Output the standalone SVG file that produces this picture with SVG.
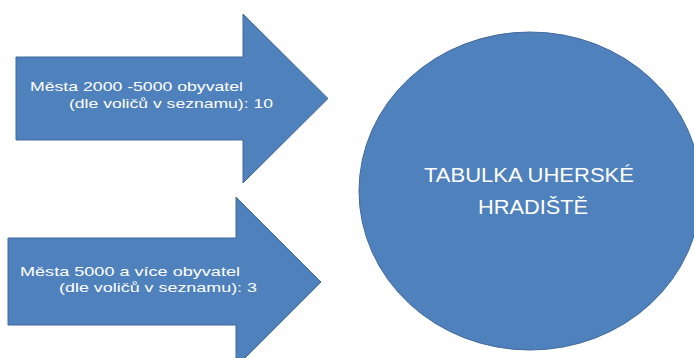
<svg xmlns="http://www.w3.org/2000/svg" width="694" height="358" viewBox="0 0 694 358">
<style>
.shape{fill:#4F81BD;stroke:#41699C;stroke-width:1}
.t{font-family:"Liberation Sans","Open Sans",sans-serif;fill:#FFFFFF}
.s{font-size:13.5px}
.c{font-size:20px;text-anchor:middle}
</style>
<rect width="694" height="358" fill="#FFFFFF"/>
<g id="arrow1">
<polygon class="shape" points="16,57 243,57 243,14 328,98.5 243,183 243,140 16,140"/>
<text class="t s" x="30" y="91" textLength="213" lengthAdjust="spacingAndGlyphs">Města 2000 -5000 obyvatel</text>
<text class="t s" x="69" y="108" textLength="204" lengthAdjust="spacingAndGlyphs">(dle voličů v seznamu): 10</text>
</g>
<g id="arrow2">
<polygon class="shape" points="8,238 236,238 236,197 321,282 236,367 236,325 8,325"/>
<text class="t s" x="20" y="276" textLength="220" lengthAdjust="spacingAndGlyphs">Města 5000 a více obyvatel</text>
<text class="t s" x="59" y="292" textLength="198" lengthAdjust="spacingAndGlyphs">(dle voličů v seznamu): 3</text>
</g>
<g id="circle">
<ellipse class="shape" cx="530" cy="191" rx="171" ry="159"/>
<text class="t c" x="529" y="182" textLength="210" lengthAdjust="spacingAndGlyphs">TABULKA UHERSKÉ</text>
<text class="t c" x="533" y="214" textLength="110" lengthAdjust="spacingAndGlyphs">HRADIŠTĚ</text>
</g>
<g id="connectors"></g>
</svg>
